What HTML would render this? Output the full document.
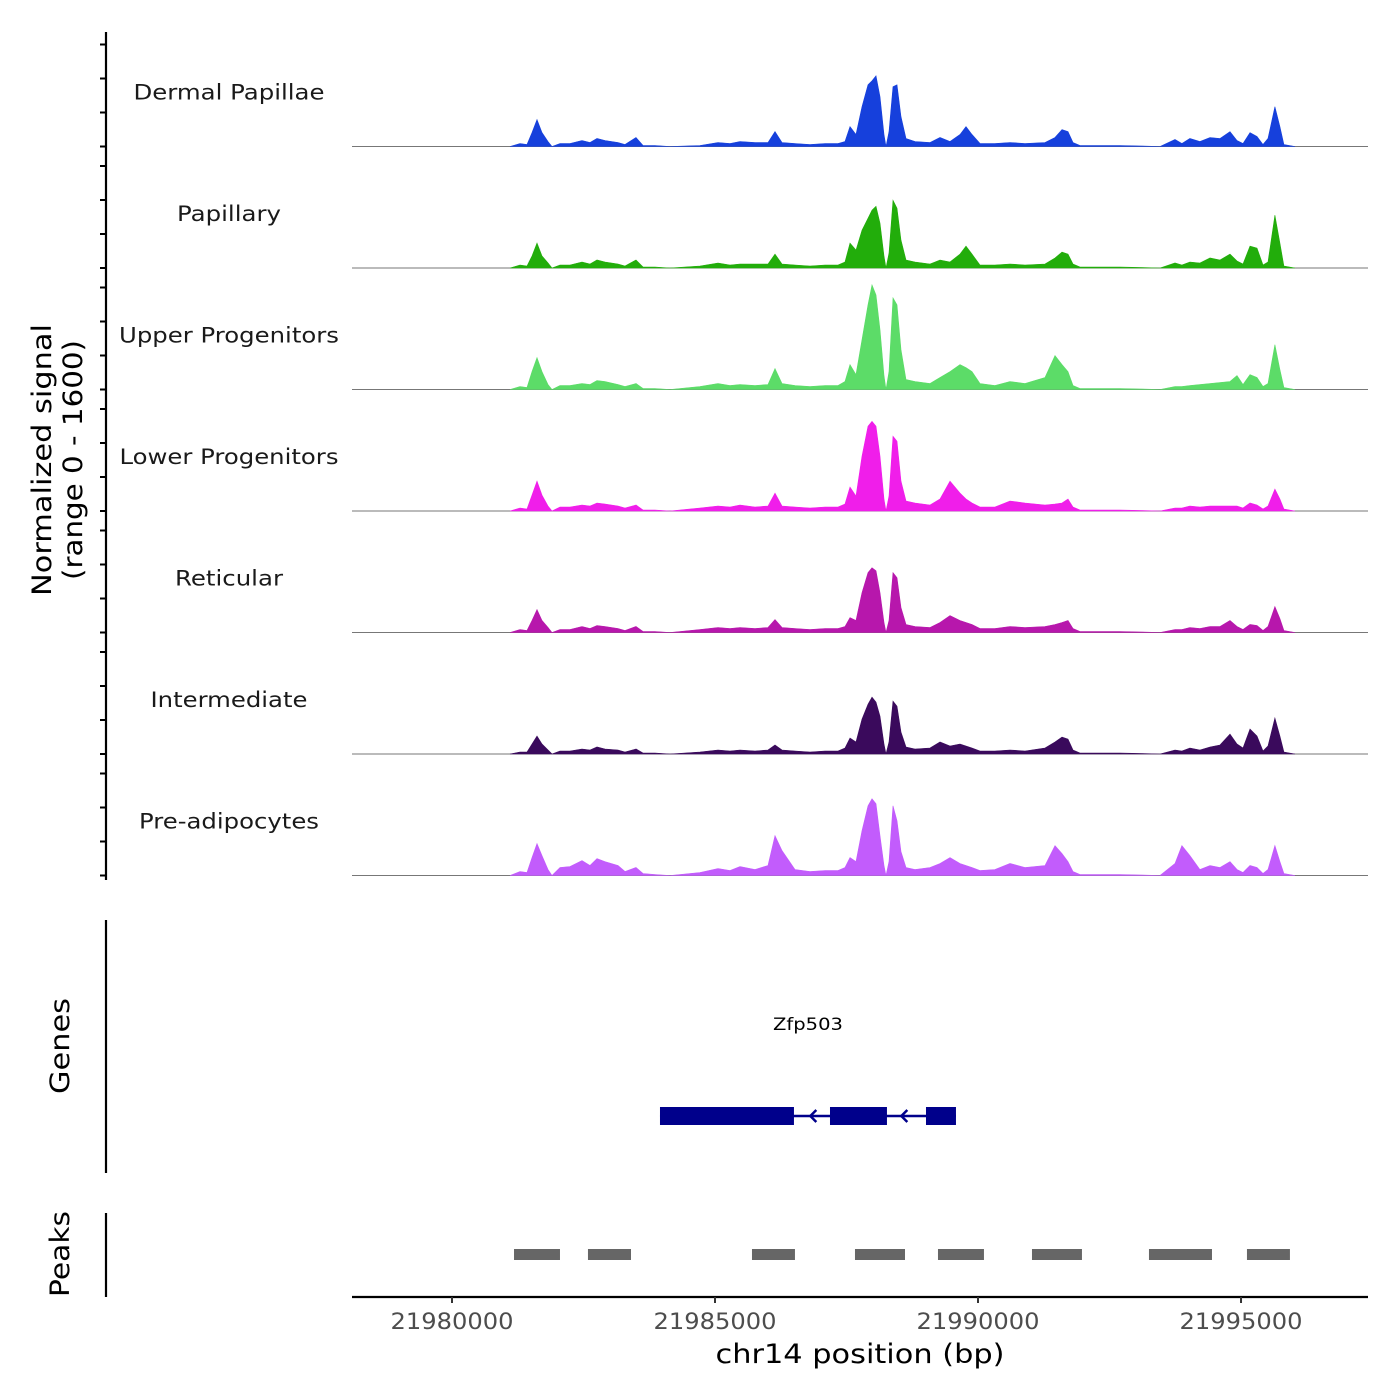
<!DOCTYPE html>
<html><head><meta charset="utf-8"><style>html,body{margin:0;padding:0;background:#fff}svg{display:block;font-family:"DejaVu Sans","Liberation Sans",sans-serif}</style></head>
<body>
<svg id="chart" width="1400" height="1400" viewBox="0 0 1400 1400" xmlns="http://www.w3.org/2000/svg"></svg>
<script>
const trackNames = ["Dermal Papillae","Papillary","Upper Progenitors","Lower Progenitors","Reticular","Intermediate","Pre-adipocytes"];
const trackColors = ["#1640dc","#22ad0b","#5cdc68","#f01eea","#b717ac","#3a0a5c","#c25cfc"];
const xTicks = [21980000,21985000,21990000,21995000];
const positions = [21981103,21981293,21981426,21981521,21981616,21981711,21981825,21981901,21982053,21982243,21982471,21982623,21982756,21982909,21983156,21983289,21983498,21983631,21983859,21984144,21984714,21985057,21985285,21985475,21985760,21986007,21986140,21986273,21986520,21986806,21987091,21987338,21987471,21987566,21987680,21987794,21987908,21987984,21988060,21988136,21988212,21988250,21988307,21988383,21988459,21988535,21988631,21988802,21989087,21989277,21989467,21989657,21989771,21989885,21990037,21990322,21990608,21990893,21991273,21991463,21991596,21991710,21991805,21991938,21992699,21993459,21993744,21993877,21994029,21994219,21994410,21994600,21994790,21994923,21995037,21995170,21995303,21995417,21995512,21995645,21995740,21995816,21996026];
const dermal = [0,3,2,14,27,14,5,0,3,3,6,4,8,6,4,2,9,1,1,0,1,4,3,5,4,4,15,4,3,2,3,3,5,20,12,40,62,66,71,50,12,0,15,60,62,30,8,5,4,9,5,12,20,12,3,3,4,3,4,9,17,15,4,1,1,0,7,3,8,5,9,8,15,6,3,14,10,2,8,40,20,2,0];
const papillary = [0,3,2,12,25,12,5,0,3,3,6,4,8,6,4,2,8,1,1,0,2,5,3,4,4,4,14,4,3,2,3,3,6,25,18,38,50,58,62,45,12,0,15,68,60,28,8,6,4,8,6,14,22,14,3,3,4,3,4,10,16,14,4,1,1,0,5,3,6,5,10,8,14,7,4,22,20,3,6,53,25,2,0];
const upper = [0,3,2,18,32,18,5,0,4,4,6,5,9,8,5,3,6,1,1,0,3,6,4,5,4,5,21,6,4,3,4,4,8,25,15,50,85,105,95,60,14,0,18,92,85,40,10,8,6,12,18,25,22,18,6,4,8,6,12,34,25,18,4,1,1,0,3,3,4,5,6,7,8,14,5,15,12,3,6,45,20,2,0];
const lower = [0,3,2,16,30,16,5,0,4,4,6,5,8,7,5,3,6,1,1,0,3,5,4,6,4,5,18,5,4,3,4,4,7,24,15,55,85,90,85,55,12,0,15,75,70,30,10,8,6,12,30,18,12,8,4,4,10,8,6,7,8,12,4,1,1,0,3,3,5,4,5,5,5,5,3,8,6,2,5,22,12,2,0];
const reticular = [0,3,2,12,23,12,5,0,3,3,6,4,7,6,4,2,6,1,1,0,3,5,4,5,4,5,13,5,4,3,4,4,6,15,12,40,60,65,62,40,10,0,12,60,55,25,8,6,5,10,17,12,10,8,4,4,6,5,6,8,10,12,4,1,1,0,3,3,5,4,6,6,12,6,3,8,7,2,6,26,14,2,0];
const intermediate = [0,2,2,10,18,10,4,0,3,3,5,4,7,5,4,2,5,1,1,0,2,4,3,4,3,4,9,4,3,2,3,3,6,16,12,35,50,57,52,38,10,0,12,53,48,22,7,5,6,12,8,10,8,6,3,3,4,3,6,12,17,15,4,1,1,0,4,3,6,4,7,9,20,10,6,25,18,3,8,36,18,2,0];
const preadipo = [0,4,3,18,32,20,6,0,8,9,15,10,17,14,10,4,8,2,1,0,3,7,5,9,6,10,40,25,6,4,5,5,8,18,14,45,70,77,72,40,10,0,14,70,55,24,8,6,8,12,18,12,10,8,5,6,12,8,10,30,22,14,4,1,1,0,12,30,20,6,10,8,14,6,3,10,8,2,6,30,14,2,0];
const tracks = [dermal,papillary,upper,lower,reticular,intermediate,preadipo];
const peakStarts = [21981179,21982585,21985703,21987661,21989239,21991026,21993250,21995113];
const peakEnds = [21982053,21983403,21986520,21988612,21990113,21991976,21994448,21995930];
const exonStarts = [21983954,21987186,21989011];
const exonEnds = [21986501,21988269,21989581];
const intronArrows = [21986850,21988580];

const NS="http://www.w3.org/2000/svg";
const svg=document.getElementById('chart');
const xMin=21978099, xMax=21997414, pxL=352, pxR=1368;
function X(v){return pxL+(v-xMin)/(xMax-xMin)*(pxR-pxL);}
const trackH=121.5, base0=146.5, yMaxVal=122;
function Y(v,i){return base0+i*trackH - v/yMaxVal*trackH;}
function mk(tag,attrs,parent){const e=document.createElementNS(NS,tag);for(const k in attrs)e.setAttribute(k,attrs[k]);(parent||svg).appendChild(e);return e;}
function fit(el,w){el.setAttribute('textLength',w);el.setAttribute('lengthAdjust','spacingAndGlyphs');}

let ax=mk('line',{x1:106,y1:32,x2:106,y2:880,stroke:'#000','stroke-width':2.2});


for(let i=0;i<7;i++){
  for(let k=0;k<4;k++){
    const yy=base0+i*trackH-k*34;
    const t=mk('line',{x1:100,y1:yy,x2:106,y2:yy,stroke:'#000','stroke-width':2});
    
    
  }
}
const labelW=[191,104,220,219,108,157,180];
for(let i=0;i<7;i++){
  const vals=tracks[i];
  let d='M'+X(positions[0])+','+Y(0,i);
  for(let j=0;j<positions.length;j++) d+=' L'+X(positions[j]).toFixed(1)+','+Y(vals[j],i).toFixed(1);
  d+=' L'+X(positions[positions.length-1])+','+Y(0,i)+' Z';
  const bl=mk('line',{x1:pxL,y1:Y(0,i),x2:pxR,y2:Y(0,i),stroke:'#777','stroke-width':1});
  
  
  const p=mk('path',{d:d,fill:trackColors[i],stroke:trackColors[i],'stroke-width':0.6});
  
  
  const lb=mk('text',{x:229,y:Y(0,i)-47,'text-anchor':'middle','font-size':21,fill:'#1a1a1a'});
  lb.textContent=trackNames[i];
  fit(lb,labelW[i]);
  
  
}
const yt=mk('text',{transform:'translate(51,460) rotate(-90)','text-anchor':'middle','font-size':27,fill:'#000'});


yt.innerHTML='<tspan x="0" dy="0" textLength="272" lengthAdjust="spacingAndGlyphs">Normalized signal</tspan><tspan x="0" dy="31" textLength="240" lengthAdjust="spacingAndGlyphs">(range 0 - 1600)</tspan>';

let ga=mk('line',{x1:106,y1:920,x2:106,y2:1173,stroke:'#000','stroke-width':2.2});


const gt=mk('text',{transform:'translate(69,1046) rotate(-90)','text-anchor':'middle','font-size':27,fill:'#000'});
gt.textContent='Genes';
fit(gt,96);


const gl=mk('line',{x1:X(exonStarts[0]),y1:1116,x2:X(exonEnds[exonEnds.length-1]),y2:1116,stroke:'#00008b','stroke-width':2.5});


for(let i=0;i<exonStarts.length;i++){
  const r=mk('rect',{x:X(exonStarts[i]),y:1107,width:X(exonEnds[i])-X(exonStarts[i]),height:18,fill:'#00008b'});
  
  
}
for(const a of intronArrows){
  const ar=mk('path',{d:`M${X(a)+4},1110 L${X(a)-2},1116 L${X(a)+4},1122`,fill:'none',stroke:'#00008b','stroke-width':2.5});
  
  
}
const gn=mk('text',{x:808,y:1030,'text-anchor':'middle','font-size':17,fill:'#000'});
gn.textContent='Zfp503';
fit(gn,70);



let pa=mk('line',{x1:106,y1:1213,x2:106,y2:1297,stroke:'#000','stroke-width':2.2});


const pt=mk('text',{transform:'translate(69,1254) rotate(-90)','text-anchor':'middle','font-size':27,fill:'#000'});
pt.textContent='Peaks';
fit(pt,86);


for(let i=0;i<peakStarts.length;i++){
  const r=mk('rect',{x:X(peakStarts[i]),y:1249,width:X(peakEnds[i])-X(peakStarts[i]),height:11,fill:'#666'});
  
  
}

const xa=mk('line',{x1:pxL,y1:1297,x2:pxR,y2:1297,stroke:'#000','stroke-width':2.2});


for(const t of xTicks){
  const tk=mk('line',{x1:X(t),y1:1297,x2:X(t),y2:1303,stroke:'#333','stroke-width':2});
  
  
  const tl=mk('text',{x:X(t),y:1329,'text-anchor':'middle','font-size':22,fill:'#4d4d4d'});
  tl.textContent=String(t);
  fit(tl,123);
  
  
}
const xt=mk('text',{x:860,y:1363,'text-anchor':'middle','font-size':27,fill:'#000'});
xt.textContent='chr14 position (bp)';
fit(xt,289);


</script>
</body></html>
